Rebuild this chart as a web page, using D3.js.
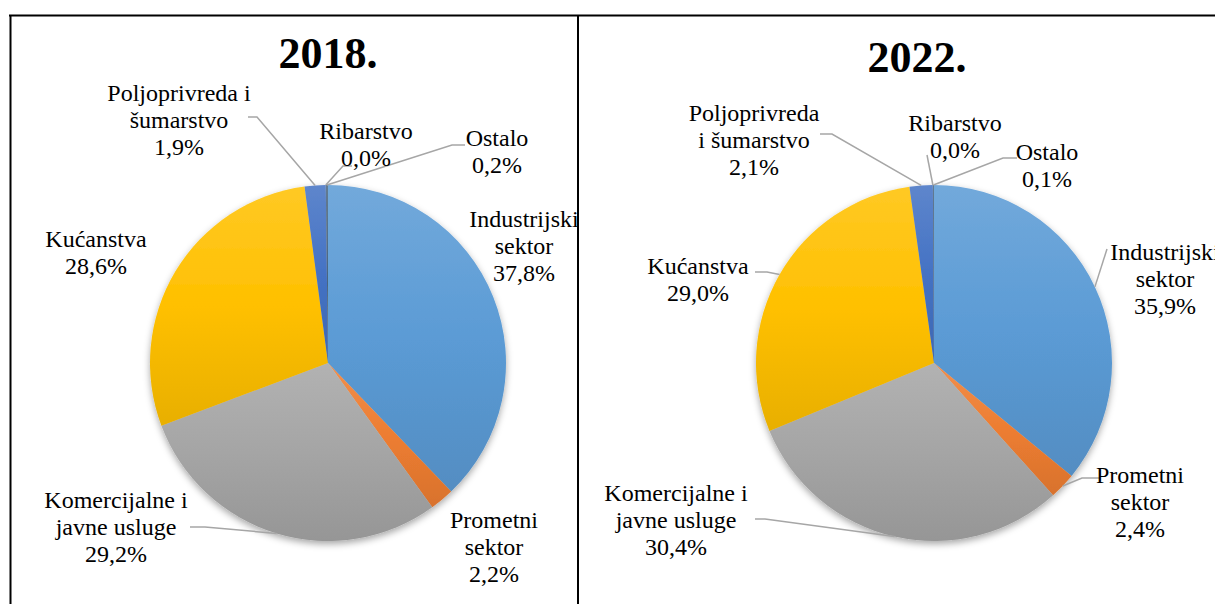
<!DOCTYPE html>
<html>
<head>
<meta charset="UTF-8">
<title>Potrošnja energije po sektorima</title>
<style>
  body { margin: 0; background: #fff; }
  svg { display: block; }
</style>
</head>
<body>
<svg></svg>
<script src="https://d3js.org/d3.v7.min.js"></script>
<script>

// categories, clockwise from 12 o'clock
var categories = ["Industrijski sektor", "Prometni sektor", "Komercijalne i javne usluge",
                  "Kućanstva", "Poljoprivreda i šumarstvo", "Ribarstvo", "Ostalo"];
var years = ["2018.", "2022."];
var values2018 = [37.8, 2.2, 29.2, 28.6, 1.9, 0.0, 0.2];
var values2022 = [35.9, 2.4, 30.4, 29.0, 2.1, 0.0, 0.1];

// how each category name wraps in the data labels
var names2018 = [["Industrijski", "sektor"], ["Prometni", "sektor"], ["Komercijalne i", "javne usluge"],
                 ["Kućanstva"], ["Poljoprivreda i", "šumarstvo"], ["Ribarstvo"], ["Ostalo"]];
var names2022 = [["Industrijski", "sektor"], ["Prometni", "sektor"], ["Komercijalne i", "javne usluge"],
                 ["Kućanstva"], ["Poljoprivreda", "i šumarstvo"], ["Ribarstvo"], ["Ostalo"]];

var colors = ["#5b9bd5", "#ed7d31", "#a5a5a5", "#ffc000", "#4472c4", "#70ad47", "#4a6680"];

var W = 1215, H = 604;
var radius = 178;
var fontSize = 24, lineH = 27;
var serif = "'Liberation Serif', 'Times New Roman', serif";

// label placement (label center x / first baseline, relative to pie center)
// leader: [start dx, start dy, elbow run] or null
var layout = [
  { year: years[0], values: values2018, names: names2018, cx: 328, cy: 363, titleX: 328, titleY: 68,
    clip: [11, 16, 566, 600],
    labels: [
      { dx: 196, dy: -136, leader: null },
      { dx: 166, dy: 165, leader: null },
      { dx: -212, dy: 145, leader: [-138, 164, 15] },
      { dx: -232, dy: -116, leader: null },
      { dx: -149, dy: -262, leader: [-80, -246, 9] },
      { dx: 38, dy: -224, leader: [24, -197, -9] },
      { dx: 169, dy: -217, leader: [137, -218, -13] }
    ] },
  { year: years[1], values: values2022, names: names2022, cx: 934, cy: 363, titleX: 917, titleY: 72,
    clip: [579, 16, 640, 600],
    labels: [
      { dx: 231, dy: -103, leader: [173, -114, 0] },
      { dx: 206, dy: 120, leader: [166, 115, -18] },
      { dx: -258, dy: 138, leader: [-179, 156, 10] },
      { dx: -236, dy: -89, leader: [-179, -91, 12] },
      { dx: -180, dy: -242, leader: [-114, -229, 12] },
      { dx: 21, dy: -232, leader: [-7, -208, 0] },
      { dx: 113, dy: -203, leader: [83, -205, -14] }
    ] }
];

var svg = d3.select("svg").attr("width", W).attr("height", H)
  .style("font-family", serif);
var defs = svg.append("defs");

// drop shadow under the pies
var shadow = defs.append("filter").attr("id", "shadow")
  .attr("x", "-20%").attr("y", "-20%").attr("width", "140%").attr("height", "140%");
shadow.append("feDropShadow")
  .attr("dx", 0).attr("dy", 3).attr("stdDeviation", 3.5)
  .attr("flood-color", "#000").attr("flood-opacity", 0.35);

// per-slice vertical gradients (lighter on top, darker at the bottom)
colors.forEach(function(c, i) {
  var g = defs.append("linearGradient").attr("id", "grad" + i)
    .attr("x1", 0).attr("y1", 0).attr("x2", 0).attr("y2", 1);
  g.append("stop").attr("offset", "0%").attr("stop-color", d3.interpolateRgb(c, "#fff")(0.14));
  g.append("stop").attr("offset", "50%").attr("stop-color", c);
  g.append("stop").attr("offset", "100%").attr("stop-color", d3.interpolateRgb(c, "#000")(0.09));
});

// frames
svg.append("line").attr("x1", 9).attr("x2", W).attr("y1", 15.5).attr("y2", 15.5)
  .attr("stroke", "#000").attr("stroke-width", 2);
svg.append("line").attr("x1", 10.5).attr("x2", 10.5).attr("y1", 15).attr("y2", H)
  .attr("stroke", "#000").attr("stroke-width", 2);
svg.append("line").attr("x1", 578).attr("x2", 578).attr("y1", 15).attr("y2", H)
  .attr("stroke", "#000").attr("stroke-width", 2);

var pie = d3.pie().sort(null).value(function(d) { return d; });
var arc = d3.arc().innerRadius(0).outerRadius(radius);
var fmt = function(v) { return d3.format(".1f")(v).replace(".", ",") + "%"; };

layout.forEach(function(chart, ci) {
  defs.append("clipPath").attr("id", "clip" + ci)
    .append("rect")
      .attr("x", chart.clip[0]).attr("y", chart.clip[1])
      .attr("width", chart.clip[2]).attr("height", chart.clip[3]);

  var panel = svg.append("g").attr("clip-path", "url(#clip" + ci + ")");

  panel.append("text")
    .attr("x", chart.titleX).attr("y", chart.titleY)
    .attr("text-anchor", "middle")
    .attr("font-family", serif)
    .attr("font-size", 44).attr("font-weight", "bold")
    .text(chart.year);

  var g = panel.append("g")
    .attr("transform", "translate(" + chart.cx + "," + chart.cy + ")");

  var arcs = pie(chart.values);

  g.append("g").attr("filter", "url(#shadow)")
    .selectAll("path")
    .data(arcs)
    .enter().append("path")
      .attr("d", arc)
      .attr("fill", function(d, i) { return "url(#grad" + i + ")"; });

  // leader lines
  g.append("g").selectAll("polyline")
    .data(arcs.filter(function(d, i) { return chart.labels[i].leader; }))
    .enter().append("polyline")
      .attr("fill", "none")
      .attr("stroke", "#a6a6a6")
      .attr("stroke-width", 1.5)
      .attr("points", function(d) {
        var L = chart.labels[d.index].leader;
        var a = (d.startAngle + d.endAngle) / 2;
        var px = radius * Math.sin(a), py = -radius * Math.cos(a);
        return [[L[0], L[1]], [L[0] + L[2], L[1]], [px, py]].map(function(p) { return p.join(","); }).join(" ");
      });

  // data labels
  var labels = g.append("g").selectAll("text")
    .data(arcs)
    .enter().append("text")
      .attr("text-anchor", "middle")
      .attr("font-family", serif)
      .attr("font-size", fontSize)
      .attr("fill", "#000")
      .attr("transform", function(d) {
        var l = chart.labels[d.index];
        return "translate(" + l.dx + "," + l.dy + ")";
      });

  labels.each(function(d) {
    var lines = chart.names[d.index].concat([fmt(d.data)]);
    d3.select(this).selectAll("tspan")
      .data(lines)
      .enter().append("tspan")
        .attr("x", 0)
        .attr("y", function(t, k) { return k * lineH; })
        .text(function(t) { return t; });
  });
});

</script>
</body>
</html>
